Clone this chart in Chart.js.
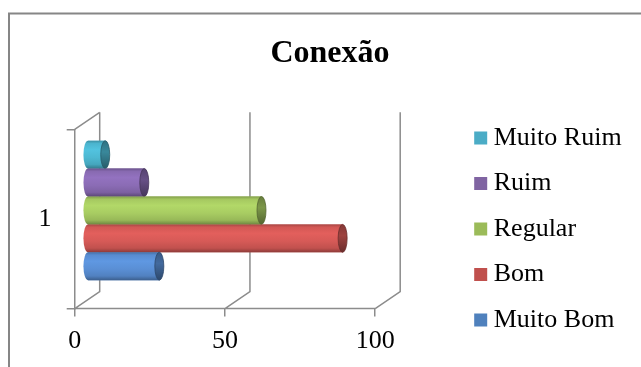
<!DOCTYPE html>
<html><head><meta charset="utf-8">
<style>html,body{margin:0;padding:0;background:#fff;}#wrap{width:641px;height:367px;}</style>
<script src="https://cdn.jsdelivr.net/npm/chart.js@4.4.1/dist/chart.umd.min.js"></script>
</head><body><div id="wrap"><canvas id="c" width="641" height="367"></canvas></div>
<script>
// ---- data ----
const categories = ['1'];
const seriesNames = ['Muito Ruim', 'Ruim', 'Regular', 'Bom', 'Muito Bom'];
const muitoRuim = [6];
const ruim = [19];
const regular = [58];
const bom = [85];
const muitoBom = [24];
const xTicks = [0, 50, 100];
const seriesData = [muitoRuim, ruim, regular, bom, muitoBom];

// ---- style ----
const seriesColors = ['#4BACC6', '#8064A2', '#9BBB59', '#C0504D', '#4F81BD'];
const bodyColors = ['#4DB8D2', '#8B6CB5', '#A8CC62', '#D65A57', '#5A8FD5'];
const SERIF = '"Liberation Serif", "Times New Roman", serif';
const DX = 25, DY = -17;       // 3D depth offset of the back wall
const X_MAX = 128.6;           // room for the 3D depth + legend gap
const GRID = '#8c8c8c';

function rgb(hex){const n=parseInt(hex.slice(1),16);return [(n>>16)&255,(n>>8)&255,n&255];}
function shade(hex,f){const c=rgb(hex);return 'rgb('+c.map(v=>Math.min(255,Math.round(v*f))).join(',')+')';}

const threeD = {
  id: 'threeD',
  beforeDraw(chart){
    const c = chart.ctx;
    c.save(); c.strokeStyle = '#868686'; c.lineWidth = 2;
    c.beginPath(); c.moveTo(9, 367); c.lineTo(9, 13.5); c.lineTo(641, 13.5); c.stroke();
    c.restore();
  },
  beforeDatasetsDraw(chart){
    const c = chart.ctx, xs = chart.scales.x, a = chart.chartArea;
    c.save(); c.strokeStyle = GRID; c.lineWidth = 1.5; c.beginPath();
    const x0 = xs.getPixelForValue(xTicks[0]), x1 = xs.getPixelForValue(xTicks[xTicks.length-1]);
    c.moveTo(x0, a.bottom); c.lineTo(x1, a.bottom);
    for (const v of xTicks){
      const p = xs.getPixelForValue(v);
      c.moveTo(p, a.bottom); c.lineTo(p+DX, a.bottom+DY); c.lineTo(p+DX, a.top+DY);
    }
    c.moveTo(a.left, a.top); c.lineTo(a.left+DX, a.top+DY);
    c.stroke(); c.restore();
    c.save(); c.translate(DX/2, DY/2);
  },
  afterDatasetsDraw(chart){
    const c = chart.ctx;
    chart.data.datasets.forEach((ds, i) => {
      const meta = chart.getDatasetMeta(i);
      const bc = bodyColors[i];
      meta.data.forEach(el => {
        const {x, y, base, height} = el.getProps(['x','y','base','height'], true);
        const h = Math.abs(height), top = y - h/2, rx = 4.5, ry = h/2;
        const g = c.createLinearGradient(0, top, 0, top+h);
        g.addColorStop(0.00, shade(bc, 0.78));
        g.addColorStop(0.10, shade(bc, 0.98));
        g.addColorStop(0.32, shade(bc, 1.06));
        g.addColorStop(0.60, shade(bc, 1.0));
        g.addColorStop(0.85, shade(bc, 0.9));
        g.addColorStop(1.00, shade(bc, 0.66));
        c.beginPath(); c.ellipse(base, y, rx, ry, 0, Math.PI/2, Math.PI*1.5);
        c.lineTo(x, top); c.lineTo(x, top+h); c.closePath();
        c.fillStyle = g; c.fill();
        const gc = c.createLinearGradient(0, top, 0, top+h);
        gc.addColorStop(0, shade(bc, 0.62));
        gc.addColorStop(0.4, shade(bc, 0.74));
        gc.addColorStop(1, shade(bc, 0.5));
        c.beginPath(); c.ellipse(x, y, rx, ry, 0, 0, Math.PI*2);
        c.fillStyle = gc; c.fill();
        c.lineWidth = 0.8; c.strokeStyle = shade(bc, 0.5); c.stroke();
      });
    });
    c.restore();
  }
};

new Chart(document.getElementById('c'), {
  type: 'bar',
  data: {
    labels: categories,
    datasets: seriesNames.map((n, i) => ({
      label: n, data: seriesData[i], backgroundColor: seriesColors[i],
      borderWidth: 0, categoryPercentage: 0.778, barPercentage: 1
    }))
  },
  options: {
    responsive: false, animation: false, indexAxis: 'y',
    layout: {padding: {left: 28.4, right: 9.4, top: 0, bottom: 1.2}},
    scales: {
      x: {
        min: 0, max: X_MAX,
        afterBuildTicks: s => { s.ticks = xTicks.map(v => ({value: v})); },
        ticks: {font: {family: SERIF, size: 26}, color: '#000', padding: 9},
        grid: {drawOnChartArea: false, drawTicks: true, tickLength: 8, color: GRID, lineWidth: 1.5},
        border: {display: false}
      },
      y: {
        afterFit: s => { s.width = 46.3; },
        ticks: {font: {family: SERIF, size: 26}, color: '#000', padding: 15.2},
        grid: {drawOnChartArea: false, tickLength: 8, color: GRID, lineWidth: 1.5, offset: true},
        border: {display: true, color: GRID, width: 1.5}
      }
    },
    plugins: {
      title: {display: true, text: 'Conexão', color: '#000',
        font: {family: SERIF, size: 32, weight: 'bold', lineHeight: 1.2},
        padding: {top: 34.1, bottom: 56.8}},
      legend: {
        position: 'right', align: 'start', maxWidth: 220,
        title: {display: true, text: '', padding: {top: 95.5, bottom: 0}, font: {size: 10, lineHeight: 1}},
        labels: {usePointStyle: true, pointStyle: 'rect', boxWidth: 0.1, boxHeight: 13,
          padding: 19.5, font: {family: SERIF, size: 26}, color: '#000'}
      },
      tooltip: {enabled: false}
    }
  },
  plugins: [threeD]
});
</script>
</body></html>
